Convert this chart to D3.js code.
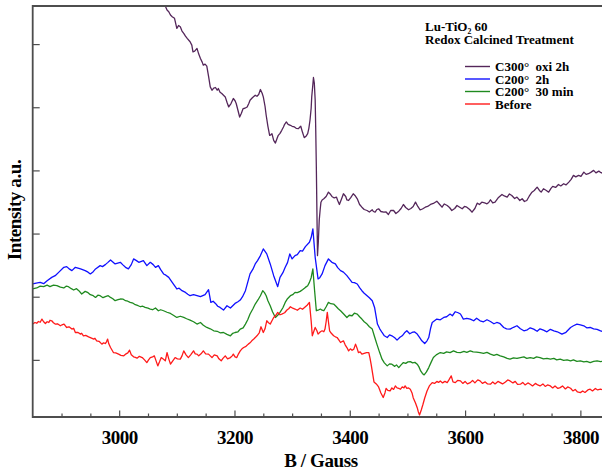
<!DOCTYPE html>
<html><head><meta charset="utf-8">
<script src="https://cdn.jsdelivr.net/npm/d3@7"></script>
<style>
html,body{margin:0;padding:0;background:#fff;}
svg{display:block;}
text{font-family:"Liberation Serif","Times New Roman",serif;}
.legend text{white-space:pre;}
</style></head><body>
<svg id="chart" width="602" height="471"></svg>
<script>
// EPR spectra of Lu-TiO2 60 after redox calcination treatments
const xTickValues = [3000, 3200, 3400, 3600, 3800];
const yTickValues = [57, 120, 183, 246, 309, 372];
const seriesNames = ["C300°  oxi 2h", "C200°  2h", "C200°  30 min", "Before"];
const seriesColors = ["#54265a", "#1010ff", "#1f8a1f", "#ff1a1a"];
const titleLines = ["Lu-TiO₂ 60", "Redox Calcined Treatment"];

// [field B (G), intensity (a.u.)]
const oxi2h = [[3075,420],[3077,416],[3080,410],[3083,406],[3086,404.3],[3089,401],[3092,399.3],[3096,397.7],[3100,387.7],[3103,390.5],[3106,389.3],[3109,385],[3112,382.7],[3115,380],[3118,377.7],[3123,374.3],[3126,371],[3128,364.3],[3131,365],[3135,367.7],[3138,362],[3141,357.7],[3144,354],[3146,351],[3149,352],[3152,350],[3155,340],[3158,329.3],[3161,326],[3164,328],[3167,328.7],[3170,326],[3172,327.7],[3175,324],[3178,322.7],[3181,321],[3184,319.3],[3187,314],[3190,309.3],[3194,312.7],[3198,317.7],[3201,315.5],[3203,312.7],[3206,306],[3209,299.3],[3212,303],[3215,307.7],[3218,308],[3222,309.3],[3225,313],[3227,316],[3231,318.5],[3236,321],[3239,320],[3242,321.7],[3245,326.7],[3248,323],[3250,319.3],[3253,310],[3255,301],[3258,290],[3261,281],[3263,281.5],[3265,282.7],[3268,276],[3271,273.3],[3274,278],[3276,281],[3279,283],[3282,286],[3285,289.3],[3287,292],[3290,294.3],[3293,292],[3297,291],[3300,290],[3304,289.3],[3307,288],[3311,287.7],[3313,289],[3315,290],[3318,284],[3321,278.7],[3324,280],[3327,282.7],[3329,288],[3331,296],[3333,308],[3334,319.3],[3336,332],[3337,338.7],[3338.5,333],[3340,316],[3341,285],[3342,249.3],[3343,205],[3344,161],[3345.5,175],[3347,196],[3348.5,206],[3350,214.3],[3352,216.5],[3355,217.7],[3359,220],[3363,224.3],[3366,222.5],[3369,220],[3373,218.5],[3377,219.3],[3379,216],[3382,212],[3386,218],[3389,222.7],[3393,220],[3395,216.5],[3398,216],[3402,219],[3406,222.7],[3409,221],[3413,217.7],[3417,212],[3421,209.3],[3425,207],[3430,206],[3434,204.5],[3439,206.7],[3441,205],[3444,204.3],[3447,207],[3450,207.7],[3454,205],[3459,204.3],[3463,204.5],[3467,202],[3471,206],[3476,206],[3480,203],[3485,205.3],[3489,208],[3493,212],[3497,209],[3502,206.7],[3506,208],[3510,210],[3514,214.3],[3518,210],[3522,206.7],[3526,207.5],[3531,209.3],[3535,210],[3540,212],[3545,213],[3551,215.3],[3556,212],[3560,209.3],[3564,212.5],[3569,211],[3573,209],[3577,206],[3582,208],[3586,211],[3590,209.5],[3595,207.7],[3599,210],[3603,209.3],[3608,207],[3612,204.3],[3617,208],[3621,213.3],[3625,212],[3629,214.3],[3634,213.5],[3638,212.7],[3641,214],[3644,216.7],[3648,213.5],[3652,214.3],[3658,219],[3664,222],[3668,220.5],[3673,219.3],[3677,222.5],[3681,221],[3686,218],[3690,219.3],[3695,216],[3699,217.7],[3703,215],[3707,216],[3711,220],[3716,224.3],[3720,226],[3725,229.3],[3729,226],[3732,224.3],[3736,227.7],[3741,226],[3745,224.3],[3749,228],[3752,230],[3757,229],[3762,232],[3766,230.5],[3771,232.7],[3775,231.5],[3780,234.3],[3784,237],[3788,241],[3792,239.5],[3797,241],[3801,240],[3806,244.3],[3810,242],[3814,242.7],[3818,244],[3823,246],[3827,243.5],[3832,245.3],[3835,244],[3838,243.3],[3840,245]];

const c200h2 = [[2850,132.7],[2856,133.5],[2863,134.3],[2869,133],[2875,136],[2883,139.3],[2889,141],[2895,144.3],[2904,149.3],[2909,150],[2914,147.5],[2918,146],[2924,149.3],[2933,147.7],[2941,146],[2946,144.5],[2950,142.7],[2955,145],[2959,147.7],[2967,151],[2971,150],[2976,152],[2980,154],[2985,156.7],[2993,152.7],[3002,154.3],[3006,152],[3011,149.3],[3016,147.7],[3021,152],[3025,157.7],[3030,156],[3034,154.3],[3042,156],[3048,151],[3054,154.3],[3059,152],[3063,149.3],[3068,151],[3072,147],[3077,142.7],[3081,141.5],[3086,139.3],[3092,134.3],[3096,131],[3100,127.7],[3104,128.5],[3109,126],[3115,124.3],[3119,122.5],[3123,121],[3129,122],[3135,121],[3141,120],[3149,122],[3155,127],[3159,114.3],[3163,115.5],[3167,113.3],[3171,110.5],[3175,109.3],[3181,106.7],[3187,111],[3193,108.7],[3197,111],[3201,113.3],[3206,115],[3210,116.7],[3214,120],[3219,126],[3227,142.7],[3232,147.5],[3236,152.7],[3240,156],[3245,161],[3250,167.7],[3256,162.7],[3262,152.7],[3268,141],[3275,130],[3279,139.3],[3284,144],[3288,149.3],[3292,154],[3296,162.7],[3300,157.7],[3305,161],[3309,162],[3314,166],[3318,165.5],[3323,170],[3330,174.3],[3333,179],[3336,187.7],[3340,159.3],[3345,137.7],[3348,139],[3352,142.7],[3357,151],[3363,157.7],[3369,154.3],[3375,152.7],[3379,149],[3384,146],[3389,144.5],[3395,141],[3399,138],[3404,134.3],[3408,134],[3413,132.7],[3417,129],[3421,126],[3425,123.5],[3430,121],[3434,119],[3439,116],[3443,109.3],[3448,92.7],[3452,88],[3456,84.3],[3460,81],[3465,79.3],[3469,82],[3473,81],[3478,79],[3482,76.7],[3487,79.5],[3491,81],[3495,84],[3499,86],[3504,83],[3508,84.3],[3512,85],[3517,82.7],[3521,79.5],[3525,76],[3530,73.3],[3534,76],[3537,79.3],[3540,88],[3543,94.3],[3547,96],[3551,97.7],[3557,97],[3563,99.3],[3568,100],[3574,102.7],[3578,101],[3583,105],[3588,104],[3592,102.7],[3597,97.7],[3603,98.5],[3609,97.7],[3615,96],[3620,98.5],[3626,96],[3632,95],[3638,97],[3644,95.3],[3650,93],[3655,94.3],[3660,93.5],[3667,89.3],[3672,88],[3678,87.7],[3684,89.5],[3690,91],[3696,88],[3702,86],[3708,87],[3713,89],[3719,87.7],[3725,85.5],[3730,88],[3736,86.7],[3742,85],[3748,87.5],[3754,86],[3760,85],[3768,82.7],[3775,84.5],[3783,89.3],[3788,91],[3794,92.7],[3800,92],[3806,91],[3811,89],[3817,89.3],[3823,88],[3829,87.5],[3835,86],[3840,85]];

const c200min30 = [[2850,127.7],[2857,128.7],[2863,130.5],[2869,130],[2875,131.5],[2880,130],[2886,131.5],[2892,131],[2898,129.5],[2904,128.7],[2908,130.5],[2912,130],[2917,128],[2921,126.7],[2926,128],[2930,126],[2935,122.7],[2941,125.3],[2946,124],[2950,122],[2955,121],[2959,119.3],[2963,121.5],[2967,121],[2972,119],[2976,120],[2981,121],[2985,119.3],[2989,118],[2993,116],[2998,117],[3002,117.7],[3007,117.5],[3011,116],[3015,115.5],[3019,114.3],[3024,113.5],[3028,112],[3033,111],[3037,110],[3041,110.5],[3045,109.3],[3050,108.5],[3054,107.7],[3058,107],[3063,108.7],[3068,106],[3072,107],[3077,106],[3083,104.5],[3089,103.3],[3094,101.5],[3100,99.3],[3106,100.5],[3112,99.3],[3117,98],[3123,96.7],[3129,95],[3135,92.7],[3141,94.3],[3146,91.5],[3152,89.3],[3158,88],[3164,86],[3170,85.5],[3175,84],[3181,84.3],[3187,82.5],[3193,81],[3197,83.5],[3201,84.3],[3206,85],[3210,87.7],[3215,89],[3219,92.7],[3223,97],[3227,102.7],[3232,108],[3236,112.7],[3241,117],[3245,121],[3249,126],[3252,124],[3255,121],[3258,116],[3262,111],[3266,105],[3271,99.3],[3275,101.5],[3279,104.3],[3284,109],[3288,114.3],[3292,118],[3297,121],[3301,122],[3305,124.3],[3309,124],[3314,125.3],[3318,127],[3323,129.3],[3327,131],[3330,134.3],[3333,139],[3336,147.7],[3339,126],[3342,106],[3345,106.5],[3349,107.7],[3352,106.5],[3355,106],[3359,110],[3363,114.3],[3367,113],[3372,112.7],[3376,110.5],[3380,108],[3384,106],[3389,103],[3395,99.3],[3399,101.5],[3404,101],[3408,103.5],[3413,102.7],[3417,100],[3421,97.7],[3425,95],[3430,92.7],[3434,90],[3439,87.7],[3443,80],[3447,72.7],[3452,64],[3456,57.7],[3460,54],[3465,51],[3469,53],[3473,52.7],[3478,50.5],[3481,52],[3485,49.3],[3489,52],[3493,54.3],[3497,53.5],[3501,55],[3505,55.3],[3509,54],[3513,54.5],[3517,52.7],[3520,50],[3523,46],[3526,43.5],[3529,42],[3533,45],[3537,49.3],[3541,54.5],[3545,59.3],[3550,62],[3557,64.3],[3563,63.5],[3568,65],[3574,64.3],[3580,66],[3586,64.5],[3592,64.3],[3598,65.5],[3603,64.5],[3609,66],[3614,65],[3620,64.7],[3626,64.3],[3632,63.5],[3638,64.5],[3644,62.7],[3650,61.5],[3655,62.5],[3661,61],[3667,60],[3673,58.5],[3678,57.7],[3684,59],[3690,58.5],[3696,59.3],[3702,60],[3707,58.5],[3713,59.3],[3719,58.5],[3724,60],[3730,59.3],[3736,58],[3742,58.5],[3748,57.7],[3754,58.5],[3759,57],[3765,57.7],[3771,56.5],[3777,57],[3783,56],[3788,57],[3794,55.5],[3800,56],[3806,55],[3811,55.5],[3817,54.3],[3823,55.5],[3829,56],[3835,55.3],[3840,55.5]];

const before = [[2850,92.7],[2854,94.3],[2857,93.5],[2860,95.3],[2863,94.5],[2866,97.7],[2869,95],[2872,93.3],[2875,95],[2878,94.3],[2880,96.5],[2883,96],[2886,94],[2889,92.7],[2893,93],[2898,91],[2901,92],[2904,92.7],[2906,91.5],[2909,89.3],[2913,90],[2918,87.7],[2921,88.5],[2924,84.3],[2928,84.5],[2933,82.7],[2935,83.5],[2938,81],[2942,81.5],[2947,80],[2951,79],[2956,77.7],[2958,78.5],[2961,76],[2965,75.5],[2970,72.7],[2973,74],[2976,73.3],[2978,75],[2980,77.7],[2982,73],[2985,69.3],[2990,64.3],[2994,64],[2999,62.7],[3003,61.5],[3008,61],[3012,63],[3015,64],[3018,66.7],[3021,62],[3025,60],[3028,59.5],[3031,58.7],[3035,60.5],[3040,59.3],[3044,57],[3048,54.3],[3051,57],[3054,59.3],[3058,60],[3061,61],[3064,56],[3067,51],[3070,55],[3073,59.3],[3077,57.5],[3080,56],[3083,64.3],[3086,58],[3089,52.7],[3093,56],[3097,59.3],[3101,58],[3106,57.7],[3109,61],[3112,66],[3116,62],[3120,59.3],[3124,62],[3129,66],[3132,63],[3135,62.7],[3138,61],[3142,63],[3146,66],[3150,63],[3155,62.7],[3158,61],[3161,59.3],[3165,62],[3170,61],[3173,58],[3177,56],[3180,58.5],[3184,61],[3188,58],[3193,59.3],[3196,61],[3198,62.7],[3201,60],[3204,59.3],[3207,63],[3210,66],[3213,68],[3216,69.3],[3220,70.5],[3224,72.7],[3227,74],[3230,76],[3234,78],[3239,81],[3243,84],[3246,90],[3250,84.3],[3253,88],[3256,96],[3259,94],[3262,92.7],[3265,96],[3268,99.3],[3271,101],[3275,104.3],[3279,102],[3282,102.7],[3287,104],[3291,106.7],[3294,108],[3297,110],[3301,108.5],[3305,107.7],[3309,106.5],[3314,108.7],[3318,107.5],[3323,110],[3326,111.5],[3330,114.3],[3333,96],[3335,81],[3338,86],[3340,89.3],[3343,86],[3345,82.7],[3349,85],[3352,86],[3355,85],[3357,87.7],[3359,95],[3361,104.3],[3363,95],[3365,86],[3368,83.5],[3372,81],[3375,80],[3378,79.3],[3381,77],[3384,74.3],[3386,75],[3389,76],[3392,72],[3395,69.3],[3398,66],[3401,68],[3404,66.5],[3407,67.7],[3410,72.7],[3413,68],[3415,64.3],[3418,65],[3421,62.7],[3425,63.5],[3429,64.3],[3433,64.3],[3435,59],[3437,52.7],[3440,42],[3442,35],[3446,33],[3450,30],[3454,24],[3458,19.5],[3461,24],[3463,28.5],[3466,26.5],[3470,26],[3473,29],[3476,27.5],[3479,31],[3482,29],[3485,28.5],[3488,27.7],[3491,30],[3494,29],[3496,31],[3499,28.5],[3502,29],[3505,27.7],[3508,24],[3510,19.3],[3514,14],[3517,9.3],[3519,5],[3521,2],[3524,7],[3527,12.7],[3530,19],[3534,26],[3538,31],[3543,34.3],[3547,33.5],[3551,35.5],[3554,34.5],[3557,36],[3561,34],[3565,35.5],[3569,34.3],[3572,37],[3576,41],[3579,35],[3583,34.3],[3587,36.5],[3592,36],[3596,33.5],[3600,35.5],[3604,33],[3609,34.3],[3613,36.5],[3617,34],[3622,37],[3626,36],[3630,33.5],[3635,35],[3639,33],[3644,32.7],[3648,35],[3652,33],[3657,35.5],[3661,34.3],[3665,33],[3670,35],[3674,37],[3678,36],[3683,34],[3687,35.5],[3691,32.5],[3696,32.7],[3700,34.5],[3704,32],[3709,34],[3713,32.7],[3717,31],[3722,33.5],[3726,32],[3730,31],[3735,33],[3739,30.5],[3743,32],[3748,31],[3752,29],[3756,31],[3761,28.5],[3765,29.3],[3769,31],[3774,28],[3778,30],[3783,28.7],[3787,26],[3791,27.5],[3795,25],[3800,24.3],[3804,26],[3808,24.5],[3813,27],[3817,27.7],[3821,26],[3826,28.5],[3830,27],[3835,27.7],[3840,27]];

const seriesData = [oxi2h, c200h2, c200min30, before];

const svg = d3.select("#chart");
const plotLeft = 32.7, plotTop = 6, plotBottom = 417;
const x = d3.scaleLinear().domain([2850, 3850]).range([plotLeft, plotLeft + 1000 * 0.5765]);
const y = d3.scaleLinear().domain([0, 410]).range([plotBottom, plotTop]);
const axisColor = "#4d4d4d";

svg.append("defs").append("clipPath").attr("id", "plotClip")
  .append("rect").attr("x", plotLeft).attr("y", plotTop)
  .attr("width", 602 - plotLeft).attr("height", plotBottom - plotTop);

// spectra
const line = d3.line().x(d => x(d[0])).y(d => y(d[1]));
const plot = svg.append("g").attr("clip-path", "url(#plotClip)");
seriesData.forEach((data, i) => {
  plot.append("path").datum(data)
    .attr("fill", "none").attr("stroke", seriesColors[i])
    .attr("stroke-width", 1.3).attr("stroke-linejoin", "round")
    .attr("d", line);
});

// minor x ticks every 50 G
const minor = d3.range(2900, 3850, 50).filter(v => !xTickValues.includes(v));
svg.append("g").attr("transform", `translate(0,${plotBottom})`)
  .call(d3.axisBottom(x).tickValues(minor).tickSizeInner(-3.5).tickSizeOuter(0).tickFormat(""))
  .call(g => g.select(".domain").remove())
  .call(g => g.selectAll("line").attr("stroke", axisColor).attr("stroke-width", 1.2));

// major x ticks and labels
const xAxis = svg.append("g").attr("transform", `translate(0,${plotBottom})`)
  .call(d3.axisBottom(x).tickValues(xTickValues).tickFormat(d3.format("d"))
    .tickSizeInner(-6.5).tickSizeOuter(0).tickPadding(14));
xAxis.select(".domain").remove();
xAxis.selectAll("line").attr("stroke", axisColor).attr("stroke-width", 1.2);
xAxis.selectAll("text").attr("fill", "#000").attr("font-size", 19).attr("font-weight", "bold")
  .attr("font-family", "'Liberation Serif', serif").attr("letter-spacing", "-0.5");

// y ticks without labels
const yAxis = svg.append("g").attr("transform", `translate(${plotLeft},0)`)
  .call(d3.axisLeft(y).tickValues(yTickValues).tickSizeInner(-7).tickSizeOuter(0).tickFormat(""));
yAxis.select(".domain").remove();
yAxis.selectAll("line").attr("stroke", axisColor).attr("stroke-width", 1.2);

// frame
svg.append("path")
  .attr("d", `M602,${plotTop}H${plotLeft}V${plotBottom}H602`)
  .attr("fill", "none").attr("stroke", axisColor).attr("stroke-width", 1.8);

// axis titles
svg.append("text").attr("x", 321).attr("y", 467).attr("text-anchor", "middle")
  .attr("font-size", 19).attr("font-weight", "bold").attr("letter-spacing", "-0.4").text("B / Gauss");
svg.append("text").attr("transform", "translate(21,210) rotate(-90)").attr("text-anchor", "middle")
  .attr("font-size", 19).attr("font-weight", "bold").attr("letter-spacing", "-0.4").text("Intensity a.u.");

// title block
titleLines.forEach((t, i) => {
  svg.append("text").attr("x", 425).attr("y", 31 + i * 12.5)
    .attr("font-size", 13).attr("font-weight", "bold").text(t);
});

// legend
const legend = svg.append("g").attr("class", "legend");
seriesNames.forEach((name, i) => {
  const cy = 66.5 + i * 12.5;
  legend.append("line").attr("x1", 465).attr("x2", 490).attr("y1", cy).attr("y2", cy)
    .attr("stroke", seriesColors[i]).attr("stroke-width", 1.4);
  legend.append("text").attr("x", 495).attr("y", cy + 4.5)
    .attr("font-size", 13).attr("font-weight", "bold").text(name);
});
</script>
</body></html>
